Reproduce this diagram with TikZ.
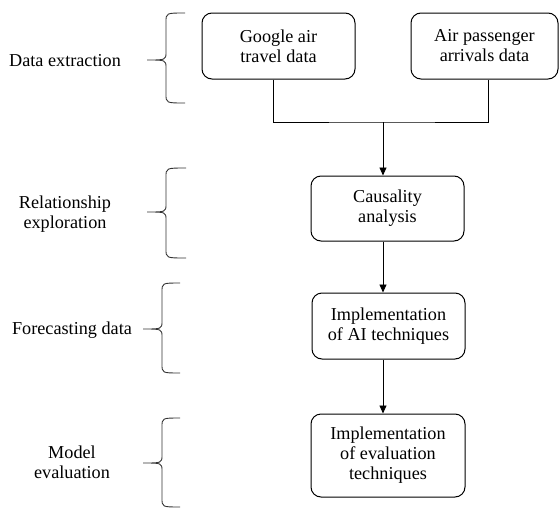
\documentclass[tikz,border=0pt]{standalone}
\usepackage{fontspec}
\setmainfont{Liberation Serif}
\usetikzlibrary{arrows.meta}
\newcommand\sidebrace[6]{% y0, ytip, y1, xtip, xvert, xend
  \draw[bracestyle] (#6,-#1) .. controls (#5,-#1) and (#5,-#1) .. (#5,-#1-9)
    -- (#5,-#2+8) .. controls (#5,-#2) and (#5,-#2) .. (#4,-#2)
    .. controls (#5,-#2) and (#5,-#2) .. (#5,-#2-8)
    -- (#5,-#3+9) .. controls (#5,-#3) and (#5,-#3) .. (#6,-#3);}
\begin{document}
\begin{tikzpicture}[x=1pt,y=1pt,
  font=\fontsize{18.2}{20}\selectfont,
  box/.style={draw, line width=1pt, rounded corners=10pt, inner sep=0pt, align=center},
  lab/.style={align=center, inner sep=0pt},
  conn/.style={line width=0.9pt},
  arr/.style={line width=0.9pt, -{Triangle[length=8pt,width=7pt]}},
  bracestyle/.style={line width=0.9pt, draw=black!80}]
\useasboundingbox (0,0) rectangle (560,-509);
\node[box, minimum width=153pt, minimum height=66pt] (b1) at (278.5,-46) {Google air\\travel data};
\node[box, minimum width=147pt, minimum height=66pt] (b2) at (484.5,-46) {Air passenger\\arrivals data};
\node[box, minimum width=153pt, minimum height=65pt] (b3) at (387.5,-208.5) {Causality\\analysis};
\node[box, minimum width=153pt, minimum height=66pt] (b4) at (388.5,-326) {Implementation\\of AI techniques};
\node[box, minimum width=154pt, minimum height=83pt] (b5) at (388,-455.5) {Implementation\\of evaluation\\techniques};
\coordinate (j) at (383,-122);
\draw[conn] ([xshift=-5.5pt]b1.south) |- (j) -| ([xshift=3.5pt]b2.south);
\draw[arr] (j) -- (j |- b3.north);
\draw[arr] (j |- b3.south) -- (j |- b4.north);
\draw[arr] (j |- b4.south) -- (j |- b5.north);
\node[lab] (t1) at (65,-61) {Data extraction};
\node[lab] (t2) at (65,-214) {Relationship\\exploration};
\node[lab] (t3) at (72,-330) {Forecasting data};
\node[lab] (t4) at (72,-462) {Model\\evaluation};
\sidebrace{13}{60}{103}{147}{166}{185}
\sidebrace{168}{212}{258}{147}{166}{186}
\sidebrace{283}{329}{373}{143}{162}{180}
\sidebrace{418}{463}{507}{143}{162}{180}
\end{tikzpicture}
\end{document}
